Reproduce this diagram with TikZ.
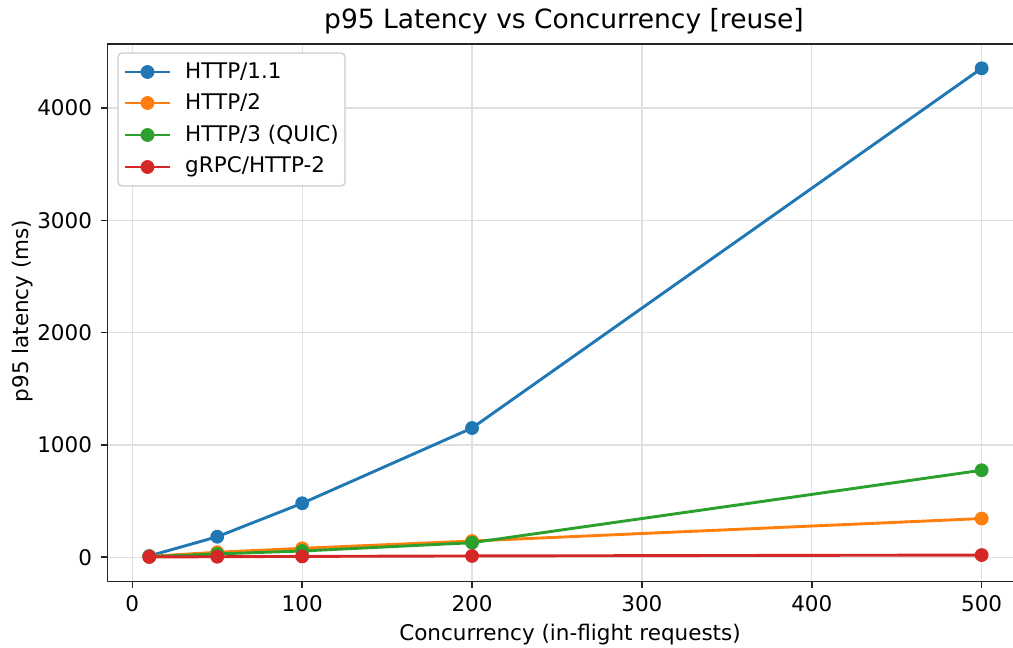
\documentclass[tikz,border=0pt]{standalone}
\usepackage{fontspec}
\setmainfont{DejaVu Sans}

\definecolor{tabblue}{HTML}{1F77B4}
\definecolor{taborange}{HTML}{FF7F0E}
\definecolor{tabgreen}{HTML}{2CA02C}
\definecolor{tabred}{HTML}{D62728}
\definecolor{spinegray}{HTML}{262626}

\tikzset{
  gridline/.style={draw=black!12, line width=1.3pt},
  spine/.style={draw=spinegray, line width=1.6pt},
  ticklab/.style={inner sep=0pt, font=\fontsize{21.5}{25}\selectfont},
  series/.style={draw=#1, line width=2.9pt, line join=round,
    mark=*, mark size=6.4pt, mark options={fill=#1, draw=#1, line width=1pt}},
}

\begin{document}
\begin{tikzpicture}[x=1pt,y=1pt]
\useasboundingbox (0,0) rectangle (1013,648);

\begin{scope}[shift={(132.3pt,90.7pt)}, x=1.6987pt, y=0.1123pt]

% grid
\foreach \gx in {0,100,...,500}
  \draw [gridline] (\gx,-217) -- (\gx,4572);
\foreach \gy in {0,1000,...,4000}
  \draw [gridline] (-14.5,\gy) -- (524.5,\gy);

% HTTP/1.1
\draw [series=tabblue] plot coordinates {(10,12) (50,183) (100,481) (200,1151) (500,4354)};
% HTTP/2
\draw [series=taborange] plot coordinates {(10,8) (50,45) (100,80) (200,145) (500,345)};
% HTTP/3
\draw [series=tabgreen] plot coordinates {(10,5) (50,30) (100,56) (200,130) (500,775)};
% gRPC
\draw [series=tabred] plot coordinates {(10,3) (50,5) (100,8) (200,12) (500,20)};

% frame and ticks
\draw [spine] (-14.5,-217) rectangle (524.5,4572);
\foreach \gx in {0,100,...,500} {
  \draw [spine] (\gx,-217) -- ++(0pt,-6.7pt);
  \node [ticklab, anchor=north] (xt\gx) at ([yshift=-13.4pt]\gx,-217) {\gx};
}
\foreach \gy in {0,1000,...,4000} {
  \draw [spine] (-14.5,\gy) -- ++(-6.7pt,0pt);
  \node [ticklab, anchor=east] (yt\gy) at ([xshift=-15.5pt]-14.5,\gy) {\gy};
}
\end{scope}

% labels
\node [font=\fontsize{26.5}{30}\selectfont] (title) at (564,627) {p95 Latency vs Concurrency [reuse]};
\node [ticklab] (xlabel) at (570,13) {Concurrency (in-flight requests)};
\node [ticklab, rotate=90] (ylabel) at (23,337) {p95 latency (ms)};

% legend
\draw [draw=black!20, fill=white, line width=1.3pt, rounded corners=4pt] (118,462) rectangle (345,595);
\draw [series=tabblue, mark indices={2}] plot coordinates {(125,576) (147.5,576) (170,576)};
\draw [series=taborange, mark indices={2}] plot coordinates {(125,545) (147.5,545) (170,545)};
\draw [series=tabgreen, mark indices={2}] plot coordinates {(125,513) (147.5,513) (170,513)};
\draw [series=tabred, mark indices={2}] plot coordinates {(125,481) (147.5,481) (170,481)};
\node [ticklab, anchor=west] (lg1) at (185,576) {HTTP/1.1};
\node [ticklab, anchor=west] (lg2) at (185,545) {HTTP/2};
\node [ticklab, anchor=west] (lg3) at (185,513) {HTTP/3 (QUIC)};
\node [ticklab, anchor=west] (lg4) at (185,481) {gRPC/HTTP-2};

\end{tikzpicture}
\end{document}
